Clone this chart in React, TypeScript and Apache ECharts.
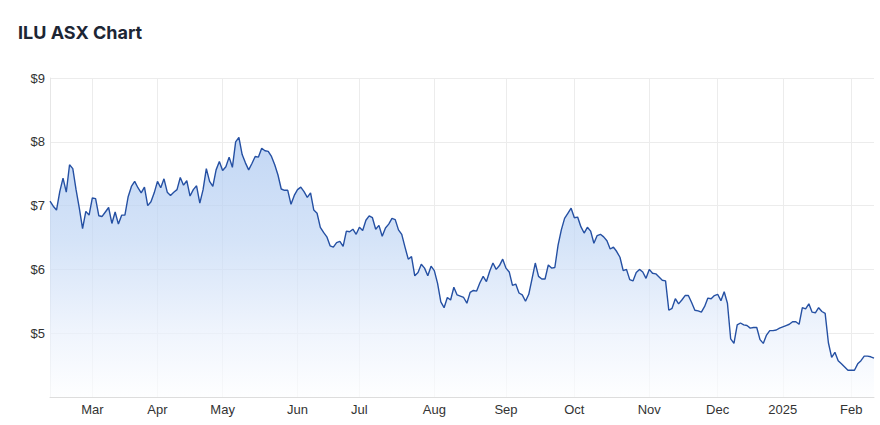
import React, { useEffect, useRef } from "react";
import * as echarts from "echarts";

// Trading calendar (ASX) for the period shown
const startDate = "2024-02-13";
const endDate = "2025-02-12";
const asxHolidays = [
  "2024-03-29", "2024-04-01", "2024-04-25", "2024-06-10",
  "2024-12-25", "2024-12-26", "2025-01-01", "2025-01-27",
];
const monthNames = ["Jan", "Feb", "Mar", "Apr", "May", "Jun", "Jul", "Aug", "Sep", "Oct", "Nov", "Dec"];

// Closing prices (A$), one per trading day
const closePrices = [
  7.07, 6.99, 6.93, 7.22, 7.43, 7.21, 7.64, 7.58, 7.25, 6.96,
  6.64, 6.91, 6.85, 7.12, 7.11, 6.84, 6.83, 6.90, 6.97, 6.72,
  6.90, 6.71, 6.85, 6.85, 7.14, 7.30, 7.38, 7.28, 7.20, 7.29,
  7.00, 7.06, 7.20, 7.38, 7.28, 7.42, 7.21, 7.16, 7.21, 7.25,
  7.44, 7.32, 7.39, 7.15, 7.25, 7.31, 7.04, 7.25, 7.58, 7.38,
  7.30, 7.56, 7.69, 7.55, 7.61, 7.76, 7.60, 8.00, 8.07, 7.80,
  7.67, 7.56, 7.66, 7.77, 7.76, 7.90, 7.86, 7.85, 7.77, 7.64,
  7.48, 7.26, 7.24, 7.24, 7.02, 7.16, 7.25, 7.29, 7.22, 7.13,
  7.20, 6.93, 6.88, 6.66, 6.58, 6.51, 6.37, 6.35, 6.42, 6.44,
  6.36, 6.60, 6.59, 6.63, 6.55, 6.66, 6.61, 6.77, 6.84, 6.81,
  6.63, 6.69, 6.52, 6.65, 6.71, 6.80, 6.78, 6.62, 6.55, 6.35,
  6.16, 6.20, 5.90, 5.95, 6.08, 6.02, 5.90, 6.05, 5.98, 5.78,
  5.49, 5.40, 5.56, 5.52, 5.72, 5.60, 5.58, 5.56, 5.47, 5.64,
  5.67, 5.66, 5.79, 5.89, 5.81, 5.97, 6.10, 6.00, 6.06, 6.16,
  6.02, 5.96, 5.75, 5.77, 5.63, 5.60, 5.50, 5.61, 5.85, 6.10,
  5.89, 5.85, 5.85, 6.07, 6.02, 6.03, 6.38, 6.62, 6.80, 6.88,
  6.96, 6.81, 6.82, 6.67, 6.57, 6.66, 6.60, 6.41, 6.53, 6.55,
  6.51, 6.45, 6.32, 6.35, 6.28, 6.19, 5.98, 6.00, 5.84, 5.82,
  5.95, 6.00, 5.96, 5.86, 6.00, 5.94, 5.93, 5.88, 5.83, 5.82,
  5.36, 5.39, 5.54, 5.46, 5.52, 5.59, 5.59, 5.48, 5.36, 5.35,
  5.33, 5.42, 5.55, 5.54, 5.59, 5.61, 5.51, 5.65, 5.47, 4.91,
  4.84, 5.13, 5.16, 5.13, 5.12, 5.08, 5.09, 5.09, 4.90, 4.84,
  4.97, 5.04, 5.04, 5.05, 5.08, 5.10, 5.12, 5.14, 5.18, 5.18,
  5.14, 5.40, 5.38, 5.46, 5.33, 5.32, 5.40, 5.34, 5.31, 4.85,
  4.62, 4.70, 4.57, 4.52, 4.47, 4.42, 4.42, 4.42, 4.52, 4.57,
  4.64, 4.64, 4.63, 4.61,
];

// Y axis ticks
const yMin = 4;
const yMax = 9;
const yStep = 1;

function buildTradingDays(): string[] {
  const out: string[] = [];
  const d = new Date(startDate + "T00:00:00Z");
  const end = new Date(endDate + "T00:00:00Z");
  while (d.getTime() <= end.getTime()) {
    const iso = d.toISOString().slice(0, 10);
    const dow = d.getUTCDay();
    if (dow !== 0 && dow !== 6 && asxHolidays.indexOf(iso) < 0) out.push(iso);
    d.setUTCDate(d.getUTCDate() + 1);
  }
  return out;
}

export default function App() {
  const ref = useRef<HTMLDivElement>(null);

  useEffect(() => {
    if (!ref.current) return;
    const chart = echarts.init(ref.current, null, { renderer: "svg" });
    const dates = buildTradingDays();
    const isMonthStart = (i: number) =>
      i > 0 && dates[i] && dates[i - 1] && dates[i].slice(0, 7) !== dates[i - 1].slice(0, 7);
    const monthLabel = (iso: string) => {
      const m = parseInt(iso.slice(5, 7), 10) - 1;
      return m === 0 ? iso.slice(0, 4) : monthNames[m];
    };

    chart.setOption({
      animation: false,
      backgroundColor: "#ffffff",
      title: {
        text: "ILU ASX Chart",
        left: 18,
        top: 23,
        padding: 0,
        textStyle: {
          fontFamily: "Inter",
          fontWeight: 700,
          fontSize: 18,
          color: "#1d2634",
        },
      },
      grid: { left: 50, right: 6, top: 78, bottom: 28, containLabel: false },
      xAxis: {
        type: "category",
        boundaryGap: false,
        data: dates,
        axisLine: { show: true, lineStyle: { color: "#dddddd", width: 1 } },
        axisTick: { show: false },
        axisLabel: {
          interval: (i: number) => !!isMonthStart(i),
          formatter: (v: string) => monthLabel(v),
          color: "#333333",
          fontFamily: "Liberation Sans",
          fontSize: 13,
          margin: 6,
        },
        splitLine: {
          show: true,
          interval: (i: number) => !!isMonthStart(i),
          lineStyle: { color: "#ececec", width: 1 },
        },
      },
      yAxis: {
        type: "value",
        min: yMin,
        max: yMax,
        interval: yStep,
        axisLine: { show: true, lineStyle: { color: "#e6e6e6", width: 1 } },
        axisTick: { show: false },
        axisLabel: {
          showMinLabel: false,
          formatter: (v: number) => (v === yMin ? "" : "$" + v),
          color: "#333333",
          fontFamily: "Liberation Sans",
          fontSize: 13,
          margin: 5,
        },
        splitLine: { show: true, lineStyle: { color: "#ececec", width: 1 } },
      },
      series: [
        {
          type: "line",
          data: closePrices,
          showSymbol: false,
          symbol: "none",
          lineStyle: { color: "#2550a3", width: 1.4 },
          areaStyle: {
            color: new echarts.graphic.LinearGradient(0, 0, 0, 1, [
              { offset: 0, color: "#a9c6f0" },
              { offset: 0.4, color: "#c3d8f5" },
              { offset: 0.75, color: "#e9f0fc" },
              { offset: 1, color: "#fdfeff" },
            ]),
          },
        },
      ],
    });

    return () => chart.dispose();
  }, []);

  return (
    <div
      ref={ref}
      style={{ position: "fixed", left: 0, top: 0, width: 880, height: 425, background: "#fff" }}
    />
  );
}
